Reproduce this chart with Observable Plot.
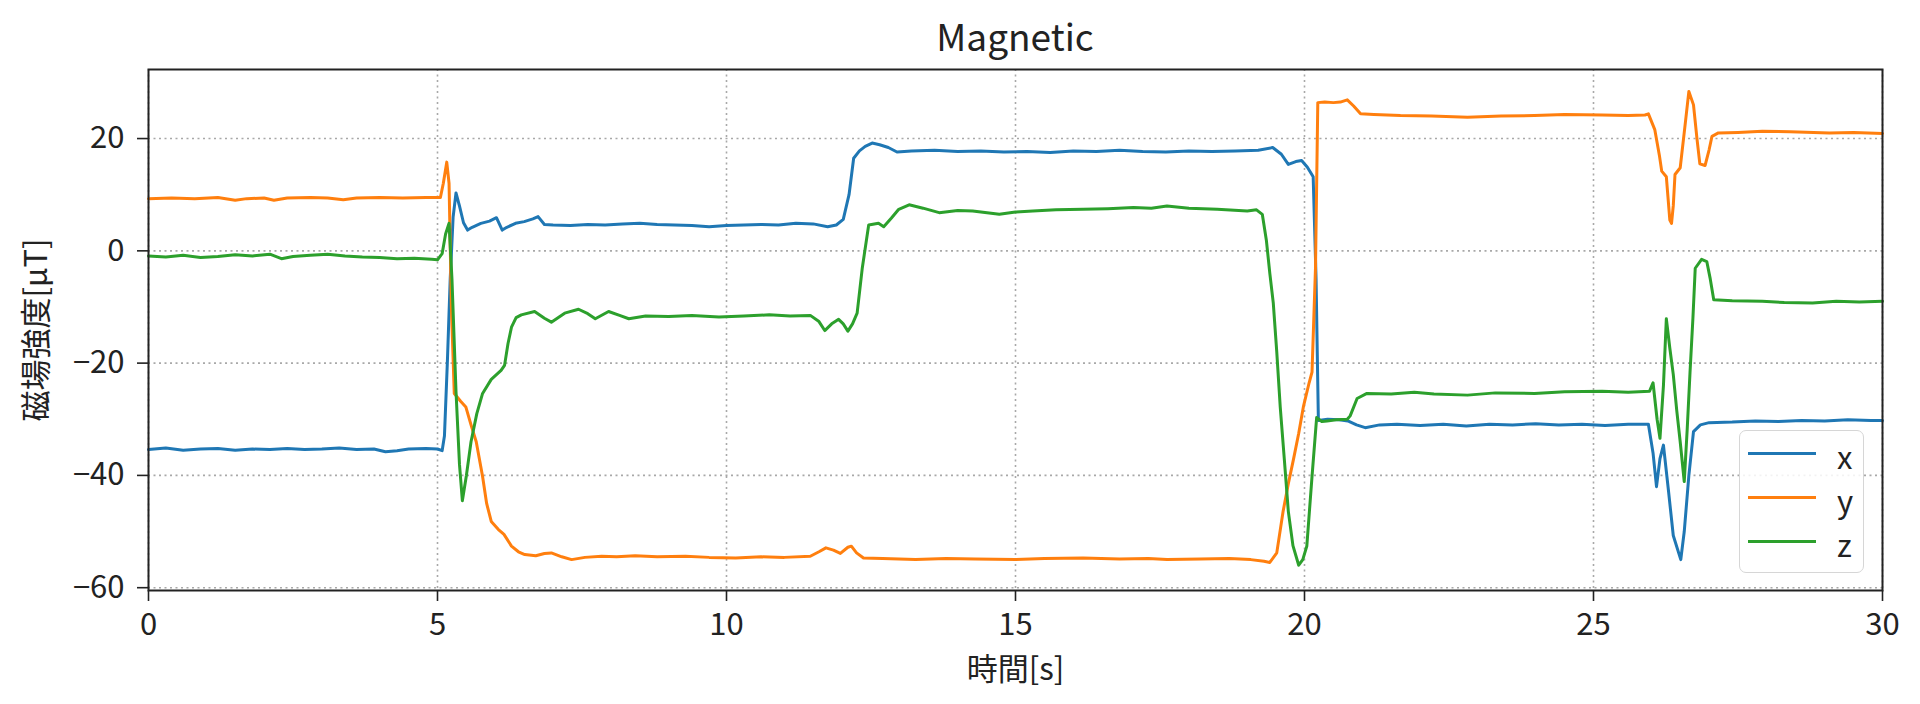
<!DOCTYPE html>
<html><head><meta charset="utf-8">
<script src="https://cdn.jsdelivr.net/npm/d3@7"></script>
<script src="https://cdn.jsdelivr.net/npm/@observablehq/plot@0.6"></script>
<style>
body{margin:0;background:#fff;font-family:"Noto Sans CJK JP","Noto Sans",sans-serif;}
#wrap{position:relative;width:1920px;height:704px;overflow:hidden;}
#title{height:60px;box-sizing:border-box;padding:17px 38px 0 148px;text-align:center;font-size:37px;line-height:37px;color:#222;}
#legend{position:absolute;left:1739px;top:430px;width:125px;height:143px;box-sizing:border-box;padding:0;border:1.5px solid #d6d6d6;border-radius:7px;background:rgba(255,255,255,0.85);}
.lrow{display:flex;align-items:center;height:44px;}
.lline{width:68px;height:3px;margin-left:8px;flex:none;}
.llab{margin-left:21px;font-size:31px;line-height:31px;color:#222;position:relative;top:2px;}
</style></head><body>
<div id="wrap"><div id="title">Magnetic</div><div id="chart"></div><div id="legend"></div></div>
<script>
const seriesNames = ["x", "y", "z"];
const seriesColors = ["#1f77b4", "#ff7f0e", "#2ca02c"];
const xTicks = [0, 5, 10, 15, 20, 25, 30];
const yTicks = [-60, -40, -20, 0, 20];

const xTime = [0.0,0.3,0.6,0.9,1.2,1.5,1.8,2.1,2.4,2.7,3.0,3.3,3.6,3.9,4.1,4.3,4.5,4.8,5.0,5.08,5.12,5.17,5.22,5.27,5.32,5.38,5.45,5.52,5.6,5.75,5.9,6.02,6.12,6.2,6.35,6.5,6.65,6.74,6.85,7.0,7.3,7.6,7.9,8.2,8.5,8.8,9.1,9.4,9.7,10.0,10.3,10.6,10.9,11.2,11.5,11.75,11.9,12.02,12.12,12.2,12.3,12.4,12.52,12.65,12.8,12.95,13.2,13.6,14.0,14.4,14.8,15.2,15.6,16.0,16.4,16.8,17.2,17.6,18.0,18.4,18.8,19.2,19.45,19.6,19.72,19.85,19.95,20.05,20.15,20.2,20.24,20.4,20.6,20.75,20.9,21.05,21.3,21.6,22.0,22.4,22.8,23.2,23.6,24.0,24.4,24.8,25.2,25.6,25.95,26.03,26.09,26.15,26.21,26.3,26.38,26.51,26.57,26.65,26.73,26.85,27.0,27.4,27.8,28.2,28.6,29.0,29.4,29.8,30.0];
const xField = [-35.4,-35.1,-35.5,-35.3,-35.2,-35.5,-35.3,-35.4,-35.2,-35.4,-35.3,-35.1,-35.4,-35.3,-35.8,-35.6,-35.3,-35.2,-35.3,-35.6,-33,-20,-5,6,10.3,8,5,3.7,4.2,4.9,5.3,5.9,3.7,4.2,4.9,5.2,5.7,6.1,4.7,4.6,4.5,4.7,4.6,4.8,4.9,4.7,4.6,4.5,4.3,4.5,4.6,4.7,4.6,4.9,4.8,4.3,4.6,5.6,10,16.5,17.8,18.6,19.2,18.9,18.4,17.6,17.8,17.9,17.7,17.8,17.6,17.7,17.5,17.8,17.7,17.9,17.7,17.6,17.8,17.7,17.8,17.9,18.4,17.2,15.4,15.9,16.1,14.9,13.2,-5,-30.2,-30.0,-30.1,-30.3,-31.0,-31.5,-31.0,-30.9,-31.1,-30.9,-31.2,-30.9,-31.0,-30.8,-31.0,-30.9,-31.1,-30.9,-30.9,-36,-42,-37,-34.6,-43,-50.7,-55,-50,-40,-32.2,-31,-30.6,-30.5,-30.3,-30.4,-30.2,-30.3,-30.1,-30.2,-30.2];

const yTime = [0.0,0.4,0.8,1.2,1.5,1.7,2.0,2.17,2.4,2.8,3.1,3.37,3.6,4.0,4.4,4.8,5.05,5.1,5.16,5.2,5.24,5.29,5.4,5.49,5.58,5.67,5.78,5.85,5.93,6.05,6.15,6.28,6.4,6.51,6.7,6.85,6.97,7.15,7.32,7.55,7.84,8.1,8.42,8.8,9.29,9.7,10.16,10.6,11.0,11.45,11.6,11.72,11.85,11.97,12.1,12.16,12.25,12.37,12.7,13.27,13.8,14.3,15.0,15.5,16.17,16.8,17.3,17.62,18.2,18.7,19.07,19.3,19.4,19.52,19.63,19.72,19.81,19.9,19.98,20.08,20.13,20.19,20.23,20.35,20.5,20.62,20.74,20.85,20.97,21.2,21.66,22.2,22.82,23.4,23.98,24.5,25.15,25.6,25.89,25.95,26.06,26.14,26.18,26.26,26.32,26.35,26.38,26.41,26.5,26.58,26.65,26.73,26.79,26.84,26.93,27.0,27.05,27.16,27.5,27.92,28.4,29.08,29.5,30.0];
const yField = [9.3,9.4,9.3,9.5,9.0,9.3,9.4,9.0,9.4,9.5,9.4,9.1,9.4,9.5,9.4,9.5,9.5,12,15.8,12,-10,-25.4,-26.8,-27.8,-31,-34,-40.2,-45,-48.2,-49.6,-50.5,-52.6,-53.6,-54.1,-54.3,-53.9,-53.8,-54.5,-55.0,-54.6,-54.4,-54.5,-54.3,-54.5,-54.4,-54.6,-54.7,-54.5,-54.6,-54.4,-53.6,-52.9,-53.3,-53.9,-52.8,-52.6,-53.8,-54.7,-54.8,-55.0,-54.8,-54.9,-55.0,-54.8,-54.7,-54.9,-54.8,-55.0,-54.9,-54.8,-55.0,-55.3,-55.5,-53.8,-46.4,-41.5,-37.1,-32.5,-27.8,-23.5,-21.6,-3.1,26.4,26.5,26.4,26.5,26.9,25.8,24.4,24.3,24.1,24.0,23.8,24.0,24.1,24.3,24.2,24.1,24.2,24.4,21.6,17.0,14.2,13.2,5.5,4.9,8,13.6,14.8,22,28.4,26.0,20,15.5,15.2,18,20.4,21.0,21.1,21.3,21.2,21.0,21.1,20.9];

const zTime = [0.0,0.3,0.6,0.9,1.2,1.5,1.8,2.1,2.3,2.5,2.8,3.1,3.4,3.7,4.0,4.3,4.6,4.9,5.0,5.08,5.14,5.2,5.25,5.32,5.38,5.43,5.5,5.58,5.68,5.78,5.93,6.1,6.16,6.22,6.28,6.36,6.45,6.68,6.85,6.97,7.2,7.44,7.6,7.73,7.96,8.15,8.31,8.6,9.0,9.4,9.87,10.3,10.74,11.1,11.45,11.6,11.7,11.82,11.94,12.02,12.1,12.18,12.26,12.35,12.46,12.63,12.72,12.85,12.98,13.16,13.4,13.68,14.0,14.26,14.72,15.0,15.3,15.7,16.17,16.6,17.04,17.35,17.62,18.0,18.49,19.01,19.17,19.27,19.34,19.4,19.46,19.52,19.58,19.65,19.72,19.8,19.9,19.97,20.04,20.13,20.21,20.3,20.39,20.55,20.74,20.79,20.91,21.08,21.5,21.9,22.24,22.82,23.3,23.98,24.5,25.15,25.6,25.97,26.03,26.1,26.15,26.21,26.26,26.32,26.38,26.44,26.5,26.57,26.62,26.67,26.72,26.76,26.87,26.96,27.02,27.08,27.4,27.92,28.3,28.79,29.2,29.6,30.0];
const zField = [-0.9,-1.1,-0.8,-1.2,-1.0,-0.7,-0.9,-0.6,-1.4,-1.0,-0.8,-0.6,-0.9,-1.1,-1.2,-1.4,-1.3,-1.5,-1.6,-0.5,3,4.9,-5,-25,-38,-44.5,-40,-34,-29,-25.4,-22.9,-21.3,-20.4,-16.5,-13.6,-11.9,-11.4,-10.8,-12,-12.7,-11.1,-10.4,-11.2,-12.1,-10.8,-11.5,-12.1,-11.6,-11.7,-11.5,-11.8,-11.6,-11.4,-11.6,-11.5,-12.6,-14.2,-13.0,-12.2,-13,-14.3,-13,-11.1,-3,4.6,4.9,4.3,5.8,7.4,8.2,7.6,6.8,7.2,7.1,6.5,6.9,7.1,7.3,7.4,7.5,7.7,7.6,8.0,7.6,7.4,7.1,7.3,6.5,1.9,-4,-9.3,-18,-27.8,-37,-46.4,-52.5,-56.0,-55,-52.6,-40.2,-29.7,-30.4,-30.3,-30.1,-30.0,-29.4,-26.3,-25.4,-25.5,-25.2,-25.5,-25.7,-25.3,-25.4,-25.1,-25.0,-25.2,-25.0,-23.5,-30,-33.4,-24,-12.1,-17.3,-22,-28.4,-34,-41.1,-32,-21.6,-12,-3.1,-1.5,-1.9,-5,-8.7,-8.9,-9.0,-9.2,-9.3,-9.0,-9.1,-9.0];

const times = [xTime, yTime, zTime];
const fields = [xField, yField, zField];
const rows = [];
seriesNames.forEach((s, i) => times[i].forEach((t, j) => rows.push({series: s, t, v: fields[i][j]})));

const font = '"Noto Sans CJK JP","Noto Sans",sans-serif';
const chart = Plot.plot({
  width: 1920, height: 644,
  marginTop: 9, marginBottom: 114, marginLeft: 148, marginRight: 38,
  style: {fontFamily: font, fontSize: "31px", color: "#222", background: "white", overflow: "visible"},
  x: {domain: [0, 30], ticks: xTicks},
  y: {domain: [-60.5, 32.3], ticks: yTicks},
  color: {domain: seriesNames, range: seriesColors},
  marks: [
    Plot.gridX(xTicks, {stroke: "#a8a8a8", strokeOpacity: 1, strokeWidth: 1.6, strokeDasharray: "2,3.5"}),
    Plot.gridY(yTicks, {stroke: "#a8a8a8", strokeOpacity: 1, strokeWidth: 1.6, strokeDasharray: "2,3.5"}),
    Plot.line(rows, {x: "t", y: "v", z: "series", stroke: "series", strokeWidth: 3, strokeLinejoin: "round"}),
    Plot.frame({stroke: "#222", strokeWidth: 2}),
    Plot.axisX(xTicks, {tickSize: 11, tickPadding: 11, strokeWidth: 1.6, fontSize: 31, label: "時間[s]", labelAnchor: "center", labelOffset: 89, labelArrow: false}),
    Plot.axisY(yTicks, {tickSize: 11, tickPadding: 13, strokeWidth: 1.6, fontSize: 31, tickFormat: d => d < 0 ? "\u2212" + Math.abs(d) : String(d), label: "磁場強度[μT]", labelAnchor: "center", labelOffset: 124, labelArrow: false})
  ]
});
document.getElementById("chart").appendChild(chart);

const legend = document.getElementById("legend");
seriesNames.forEach((s, i) => {
  const row = document.createElement("div");
  row.className = "lrow";
  const ln = document.createElement("div");
  ln.className = "lline";
  ln.style.background = seriesColors[i];
  const lab = document.createElement("div");
  lab.className = "llab";
  lab.textContent = s;
  row.appendChild(ln); row.appendChild(lab);
  legend.appendChild(row);
});
</script>
</body></html>
